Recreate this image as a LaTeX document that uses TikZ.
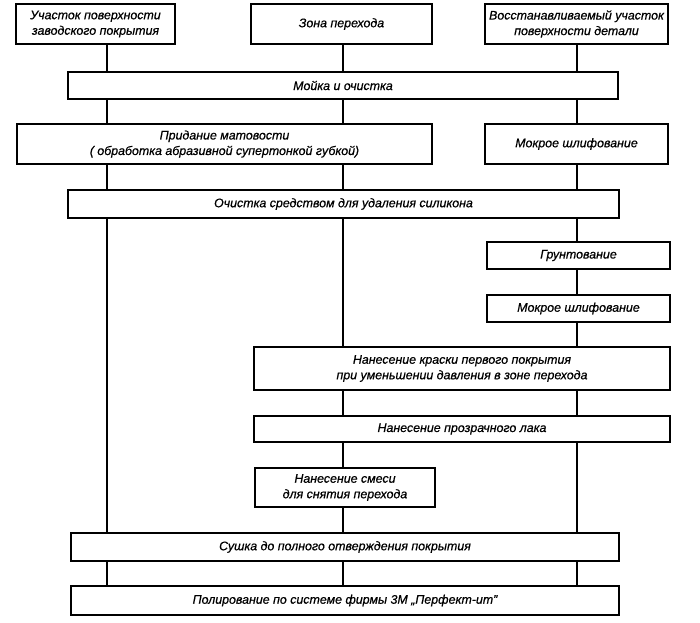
\documentclass[tikz,border=0pt]{standalone}
\usepackage{fontspec}
\setmainfont{Liberation Sans}[ItalicFeatures={FakeBold=0.6}]
\begin{document}
\begin{tikzpicture}[x=1pt,y=-1pt,
  box/.style={draw, line width=1.5pt, inner sep=0pt, align=center,
    font=\fontsize{12.4}{15.5}\selectfont\itshape},
  link/.style={line width=1.2pt}]
\useasboundingbox[fill=white] (0,0) rectangle (700,622);
% columns
\coordinate (L1) at (107,0);
\coordinate (L2) at (343,0);
\coordinate (L3) at (577,0);
% boxes
\node[box, minimum width=159pt, minimum height=40pt] (b1) at (95.5,24) {Участок поверхности\\заводского покрытия};
\node[box, minimum width=181pt, minimum height=40pt] (b2) at (341.5,24) {Зона перехода};
\node[box, minimum width=183pt, minimum height=40pt] (b3) at (576.5,24) {Восстанавливаемый участок\\поверхности детали};
\node[box, minimum width=550pt, minimum height=27pt] (moj) at (343,85.5) {Мойка и очистка};
\node[box, minimum width=415pt, minimum height=40pt] (prid) at (224.5,144) {Придание матовости\\( обработка абразивной супертонкой губкой)};
\node[box, minimum width=183pt, minimum height=40pt] (mok1) at (576.5,144) {Мокрое шлифование};
\node[box, minimum width=551pt, minimum height=28pt] (och) at (343.5,204) {Очистка средством для удаления силикона};
\node[box, minimum width=183pt, minimum height=27pt] (grn) at (578.5,255.5) {Грунтование};
\node[box, minimum width=183pt, minimum height=27pt] (mok2) at (578.5,308.5) {Мокрое шлифование};
\node[box, minimum width=416pt, minimum height=43pt] (kr) at (462,368.5) {Нанесение краски первого покрытия\\при уменьшении давления в зоне перехода};
\node[box, minimum width=416pt, minimum height=26pt] (lak) at (462,429) {Нанесение прозрачного лака};
\node[box, minimum width=180pt, minimum height=39pt] (sm) at (345,487.5) {Нанесение смеси\\для снятия перехода};
\node[box, minimum width=548pt, minimum height=28pt] (sush) at (345,547) {Сушка до полного отверждения покрытия};
\node[box, minimum width=548pt, minimum height=29pt] (pol) at (345,600.5) {Полирование по системе фирмы 3М „Перфект-ит”};
% column 1
\draw[link] (b1.south -| L1) -- (moj.north -| L1);
\draw[link] (moj.south -| L1) -- (prid.north -| L1);
\draw[link] (prid.south -| L1) -- (och.north -| L1);
\draw[link] (och.south -| L1) -- (sush.north -| L1);
\draw[link] (sush.south -| L1) -- (pol.north -| L1);
% column 2
\draw[link] (b2.south -| L2) -- (moj.north -| L2);
\draw[link] (moj.south -| L2) -- (prid.north -| L2);
\draw[link] (prid.south -| L2) -- (och.north -| L2);
\draw[link] (och.south -| L2) -- (kr.north -| L2);
\draw[link] (kr.south -| L2) -- (lak.north -| L2);
\draw[link] (lak.south -| L2) -- (sm.north -| L2);
\draw[link] (sm.south -| L2) -- (sush.north -| L2);
\draw[link] (sush.south -| L2) -- (pol.north -| L2);
% column 3
\draw[link] (b3.south -| L3) -- (moj.north -| L3);
\draw[link] (moj.south -| L3) -- (mok1.north -| L3);
\draw[link] (mok1.south -| L3) -- (och.north -| L3);
\draw[link] (och.south -| L3) -- (grn.north -| L3);
\draw[link] (grn.south -| L3) -- (mok2.north -| L3);
\draw[link] (mok2.south -| L3) -- (kr.north -| L3);
\draw[link] (kr.south -| L3) -- (lak.north -| L3);
\draw[link] (lak.south -| L3) -- (sush.north -| L3);
\draw[link] (sush.south -| L3) -- (pol.north -| L3);
\end{tikzpicture}
\end{document}
